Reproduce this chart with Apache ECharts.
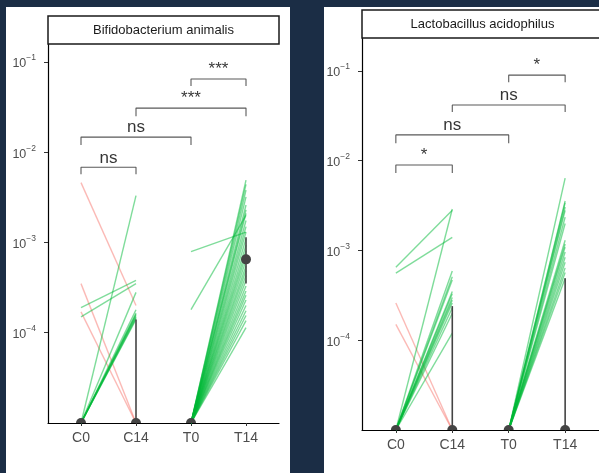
<!DOCTYPE html>
<html><head><meta charset="utf-8">
<script src="https://cdn.jsdelivr.net/npm/echarts@6/dist/echarts.min.js"></script>
<style>html,body{margin:0;padding:0;background:#1b2d45}#c{width:599px;height:473px}</style>
</head><body><div id="c"></div><script>
// ---------------- data ----------------
const categories = ['C0', 'C14', 'T0', 'T14'];
const panelTitles = ['Bifidobacterium animalis', 'Lactobacillus acidophilus'];
const yTickValues = [1e-4, 1e-3, 1e-2, 1e-1];
const yFloor = 1e-5;               // 0 (not detected) is drawn at the floor of the log axis
const yMaxBif = 0.158;
const yMaxLac = 0.233;

// Bifidobacterium animalis : paired samples (0 = not detected)
const bifC0  = [4.6e-3, 3.5e-4, 1.7e-4, 1.9e-4, 1.5e-4, 0, 0, 0, 0, 0, 0, 0, 0, 0];
const bifC14 = [2.0e-4, 0, 0, 3.8e-4, 3.5e-4, 3.3e-3, 2.8e-4, 1.8e-4, 1.65e-4, 1.6e-4, 1.55e-4, 1.5e-4, 1.45e-4, 1.4e-4];
const bifT0  = [7.9e-4, 1.8e-4, 0, 0, 0, 0, 0, 0, 0, 0, 0, 0, 0, 0, 0, 0, 0, 0, 0, 0, 0, 0, 0, 0, 0, 0, 0, 0, 0, 0];
const bifT14 = [1.3e-3, 2.0e-3, 4.9e-3, 4.4e-3, 3.8e-3, 3.2e-3, 2.6e-3, 2.3e-3, 2.1e-3, 1.75e-3, 1.5e-3, 1.3e-3, 1.1e-3, 9.3e-4, 8.1e-4, 7.2e-4, 6.3e-4, 5.5e-4, 4.9e-4, 4.3e-4, 3.8e-4, 3.3e-4, 2.9e-4, 2.6e-4, 2.3e-4, 2.0e-4, 1.75e-4, 1.55e-4, 1.36e-4, 1.14e-4];
const bifCenter = [0, 0, 0, 6.5e-4];
const bifLow    = [0, 0, 0, 3.5e-4];
const bifHigh   = [0, 1.4e-4, 0, 1.14e-3];

// Lactobacillus acidophilus
const lacC0  = [6.5e-4, 5.6e-4, 2.6e-4, 1.5e-4, 0, 0, 0, 0, 0, 0, 0, 0, 0, 0, 0, 0];
const lacC14 = [2.8e-3, 1.4e-3, 0, 0, 2.9e-3, 5.9e-4, 5.1e-4, 4.7e-4, 3.5e-4, 3.3e-4, 3.0e-4, 2.8e-4, 2.6e-4, 2.3e-4, 2.0e-4, 1.2e-4];
const lacT0  = [0, 0, 0, 0, 0, 0, 0, 0, 0, 0, 0, 0, 0, 0, 0, 0];
const lacT14 = [6.4e-3, 3.56e-3, 3.4e-3, 3.05e-3, 2.8e-3, 2.35e-3, 2.0e-3, 1.3e-3, 1.18e-3, 1.09e-3, 9.6e-4, 8.4e-4, 7.4e-4, 6.4e-4, 5.7e-4, 4.9e-4];
const lacCenter = [0, 0, 0, 0];
const lacLow    = [0, 0, 0, 0];
const lacHigh   = [0, 2.4e-4, 0, 4.9e-4];

// significance brackets (pairs of category positions)
const sigPairs = [[1, 2], [1, 3], [2, 4], [3, 4]];
const bifSigLabels = ['ns', 'ns', '***', '***'];
const bifBracketTop = [6.8e-3, 1.47e-2, 3.08e-2, 6.47e-2];
const bifBracketTip = [5.7e-3, 1.2e-2, 2.5e-2, 5.4e-2];
const lacSigLabels = ['*', 'ns', 'ns', '*'];
const lacBracketTop = [8.95e-3, 1.94e-2, 4.18e-2, 9.0e-2];
const lacBracketTip = [7.3e-3, 1.57e-2, 3.49e-2, 7.5e-2];

// ---------------- chart ----------------
const FONT = 'Liberation Sans, Arial, sans-serif';
const GREEN = '#00BA38', RED = '#F8766D';
const fv = v => (v === 0 ? yFloor : v);

const panels = [
  { title: panelTitles[0], grid: { left: 48, top: 44, width: 231, height: 379 }, yMax: yMaxBif,
    c0: bifC0, c14: bifC14, t0: bifT0, t14: bifT14, center: bifCenter, low: bifLow, high: bifHigh,
    labels: bifSigLabels, top: bifBracketTop, tip: bifBracketTip, strip: { x: 48, y: 16, w: 231, h: 28 } },
  { title: panelTitles[1], grid: { left: 362, top: 38, width: 241, height: 392 }, yMax: yMaxLac,
    c0: lacC0, c14: lacC14, t0: lacT0, t14: lacT14, center: lacCenter, low: lacLow, high: lacHigh,
    labels: lacSigLabels, top: lacBracketTop, tip: lacBracketTip, strip: { x: 362, y: 10, w: 241, h: 28 } }
];

const grids = [], xAxes = [], yAxes = [], series = [], graphics = [];
graphics.push({ type: 'rect', shape: { x: 6, y: 7, width: 284, height: 470 }, style: { fill: '#fff' }, z: -10, silent: true });
graphics.push({ type: 'rect', shape: { x: 324, y: 7, width: 280, height: 470 }, style: { fill: '#fff' }, z: -10, silent: true });

panels.forEach((p, pi) => {
  grids.push(Object.assign({ containLabel: false }, p.grid));
  xAxes.push({
    type: 'value', gridIndex: pi, min: 0.4, max: 4.6,
    axisLine: { show: true, onZero: false, lineStyle: { color: '#000', width: 1.2 } },
    axisTick: { show: true, length: 3, lineStyle: { color: '#333' }, customValues: [1, 2, 3, 4] },
    axisLabel: { customValues: [1, 2, 3, 4], formatter: v => categories[Math.round(v) - 1] || '',
      fontSize: 14, color: '#4d4d4d', fontFamily: FONT, margin: 8 },
    splitLine: { show: false }
  });
  yAxes.push({
    type: 'log', logBase: 10, gridIndex: pi, min: yFloor, max: p.yMax,
    axisLine: { show: true, lineStyle: { color: '#000', width: 1.2 } },
    axisTick: { show: true, length: 4, lineStyle: { color: '#333' }, customValues: yTickValues },
    axisLabel: {
      customValues: yTickValues, margin: 12,
      formatter: v => '{b|10}{s|\u2212' + Math.round(-Math.log10(v)) + '}',
      rich: {
        b: { fontSize: 12.5, color: '#4d4d4d', fontFamily: FONT, lineHeight: 17, verticalAlign: 'bottom' },
        s: { fontSize: 8.5, color: '#4d4d4d', fontFamily: FONT, lineHeight: 9, verticalAlign: 'top' }
      }
    },
    splitLine: { show: false }, minorTick: { show: false }
  });

  const addPair = (a, b, xa, xb) => {
    a.forEach((va, i) => {
      const vb = b[i];
      series.push({
        type: 'line', xAxisIndex: pi, yAxisIndex: pi, symbol: 'none', silent: true, z: 2,
        data: [[xa, fv(va)], [xb, fv(vb)]],
        lineStyle: { color: vb > va ? GREEN : RED, width: 1.4, opacity: 0.5 }
      });
    });
  };
  addPair(p.c0, p.c14, 1, 2);
  addPair(p.t0, p.t14, 3, 4);

  // summary points with error bars
  series.push({
    type: 'custom', xAxisIndex: pi, yAxisIndex: pi, clip: true, z: 5, silent: true,
    data: categories.map((c, i) => [i + 1, fv(p.center[i]), fv(p.low[i]), fv(p.high[i])]),
    renderItem: (params, api) => {
      const c = api.coord([api.value(0), api.value(1)]);
      const lo = api.coord([api.value(0), api.value(2)]);
      const hi = api.coord([api.value(0), api.value(3)]);
      return { type: 'group', children: [
        { type: 'line', shape: { x1: lo[0], y1: lo[1], x2: hi[0], y2: hi[1] }, style: { stroke: '#444', lineWidth: 1.6 } },
        { type: 'circle', shape: { cx: c[0], cy: c[1], r: 5 }, style: { fill: '#444' } }
      ] };
    }
  });

  // brackets
  sigPairs.forEach((pr, k) => {
    series.push({
      type: 'line', xAxisIndex: pi, yAxisIndex: pi, symbol: 'none', silent: true, z: 3,
      data: [[pr[0], p.tip[k]], [pr[0], p.top[k]], [pr[1], p.top[k]], [pr[1], p.tip[k]]],
      lineStyle: { color: '#595959', width: 1.1 }
    });
  });
  series.push({
    type: 'scatter', xAxisIndex: pi, yAxisIndex: pi, symbolSize: 0, silent: true, z: 4,
    data: sigPairs.map((pr, k) => [(pr[0] + pr[1]) / 2, p.top[k], p.labels[k]]),
    label: { show: true, position: 'top', distance: 1, formatter: q => q.value[2],
      fontSize: 17, color: '#000', fontFamily: FONT }
  });

  graphics.push({ type: 'rect', shape: { x: p.strip.x, y: p.strip.y, width: p.strip.w, height: p.strip.h },
    style: { fill: '#fff', stroke: '#1a1a1a', lineWidth: 1.5 }, z: 10, silent: true });
  graphics.push({ type: 'text', x: p.strip.x + p.strip.w / 2, y: p.strip.y + p.strip.h / 2, z: 11, silent: true,
    style: { text: p.title, fontSize: 13, fontFamily: FONT, fill: '#1a1a1a', align: 'center', verticalAlign: 'middle' } });
});

const chart = echarts.init(document.getElementById('c'), null, { renderer: 'canvas' });
chart.setOption({
  backgroundColor: '#1b2d45', animation: false,
  grid: grids, xAxis: xAxes, yAxis: yAxes, series: series, graphic: graphics
});
</script></body></html>
